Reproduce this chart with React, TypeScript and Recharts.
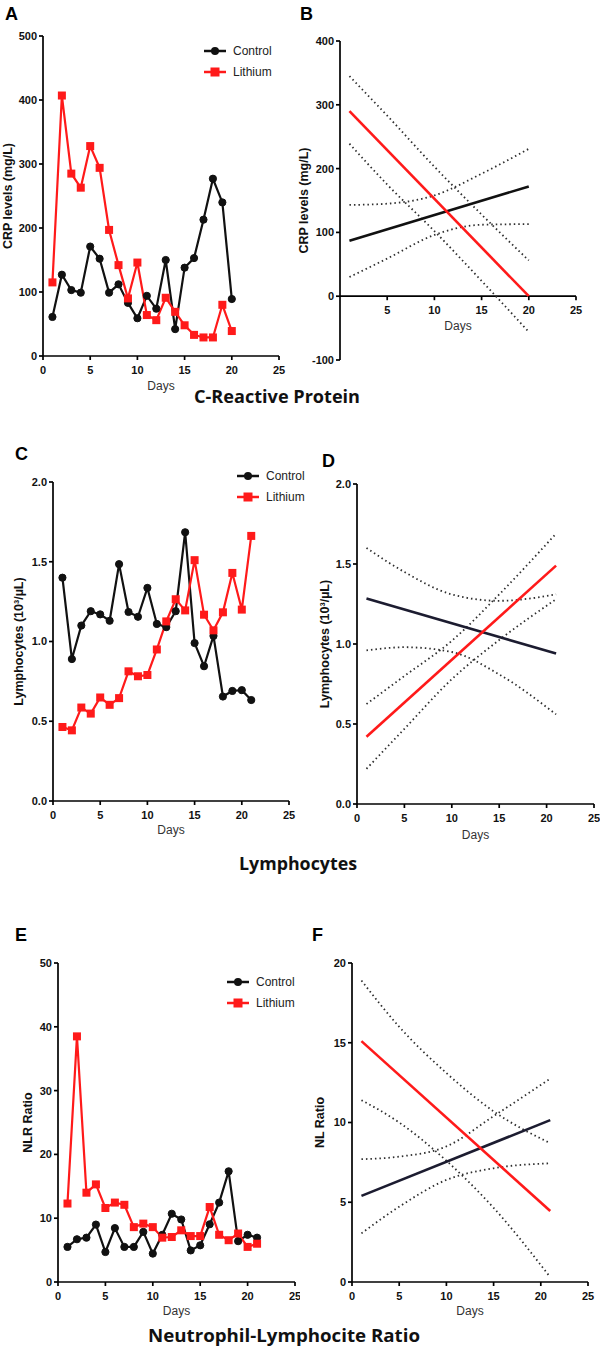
import { LineChart, Line, XAxis, YAxis, ReferenceLine, Legend } from "recharts";

const FONT = "'Liberation Sans', Arial, sans-serif";
const TITLE_FONT = "'Open Sans', 'Noto Sans', sans-serif";
const RED = "#ff1a1a";
const BLACK = "#111111";
const NAVY = "#1c1c30";
const CI = "#2e2e2e";

// A: CRP, daily values
const crpDays = [1, 2, 3, 4, 5, 6, 7, 8, 9, 10, 11, 12, 13, 14, 15, 16, 17, 18, 19, 20];
const crpControl = [61, 127, 103, 99, 171, 152, 99, 112, 83, 59, 94, 74, 150, 42, 138, 153, 213, 277, 240, 89];
const crpLithium = [115, 407, 285, 263, 328, 294, 197, 142, 90, 146, 64, 56, 91, 69, 48, 33, 29, 29, 80, 39];

// B: CRP, linear fit with 95% band
const crpFitDays = [1, 20];
const crpFitControl = [87, 172];
const crpFitLithium = [290, 0];
const crpBandDays = [1, 5, 10, 15, 20];
const crpCtrlUpper = [143, 145, 158, 192, 231];
const crpCtrlLower = [30, 59, 96, 112, 113];
const crpLithUpper = [345, 283, 203, 128, 56];
const crpLithLower = [239, 175, 102, 24, -56];

// C: lymphocytes, daily values
const lymDays = [1, 2, 3, 4, 5, 6, 7, 8, 9, 10, 11, 12, 13, 14, 15, 16, 17, 18, 19, 20, 21];
const lymControl = [1.4, 0.89, 1.1, 1.19, 1.17, 1.13, 1.485, 1.185, 1.155, 1.336, 1.11, 1.09, 1.19, 1.685, 0.99, 0.845, 1.035, 0.655, 0.69, 0.695, 0.633];
const lymLithium = [0.464, 0.443, 0.586, 0.548, 0.649, 0.603, 0.645, 0.813, 0.782, 0.79, 0.95, 1.126, 1.265, 1.195, 1.51, 1.168, 1.07, 1.183, 1.43, 1.2, 1.662];

// D: lymphocytes, linear fit with 95% band
const lymFitDays = [1, 21];
const lymFitControl = [1.285, 0.94];
const lymFitLithium = [0.42, 1.49];
const lymBandDays = [1, 5, 10, 15, 21];
const lymCtrlUpper = [1.6, 1.45, 1.31, 1.27, 1.31];
const lymCtrlLower = [0.96, 0.98, 0.95, 0.81, 0.56];
const lymLithUpper = [0.625, 0.8, 1.02, 1.31, 1.69];
const lymLithLower = [0.22, 0.47, 0.78, 1.025, 1.28];

// E: NLR, daily values
const nlrDays = lymDays;
const nlrControl = [5.5, 6.7, 6.95, 9.0, 4.7, 8.45, 5.5, 5.5, 7.85, 4.45, 7.4, 10.7, 9.8, 4.95, 5.75, 9.05, 12.45, 17.35, 6.4, 7.4, 6.95];
const nlrLithium = [12.3, 38.5, 14.0, 15.3, 11.6, 12.45, 12.1, 8.6, 9.15, 8.6, 6.95, 7.05, 8.1, 7.2, 7.2, 11.75, 7.4, 6.55, 7.6, 5.5, 6.0];

// F: NLR, linear fit with 95% band
const nlrFitDays = [1, 21];
const nlrFitControl = [5.4, 10.15];
const nlrFitLithium = [15.1, 4.45];
const nlrBandDays = [1, 5, 10, 15, 21];
const nlrCtrlUpper = [7.7, 7.86, 8.5, 10.4, 12.75];
const nlrCtrlLower = [3.05, 4.72, 6.4, 7.13, 7.44];
const nlrLithUpper = [18.9, 16.0, 13.1, 10.7, 8.7];
const nlrLithLower = [11.4, 10.0, 7.6, 4.65, 0.3];

const dayTicks = [0, 5, 10, 15, 20, 25];

const rows = (days: number[], vals: number[]) => days.map((day, i) => ({ day, v: vals[i] }));

const axisLine = { stroke: "#000", strokeWidth: 1.7 };
const tickStyle = { fontSize: 11, fontWeight: 700, fill: "#111", fontFamily: FONT };

function SquareDot(props: any) {
  const { cx, cy, index } = props;
  if (cx == null || cy == null) return <g key={index} />;
  return <rect key={index} x={cx - 4} y={cy - 4} width={8} height={8} fill={RED} />;
}

function LegendBox({ payload }: any) {
  return (
    <div style={{ fontFamily: FONT, fontSize: 12, color: "#222", whiteSpace: "nowrap" }}>
      {(payload || []).map((p: any) => (
        <div key={p.value} style={{ display: "flex", alignItems: "center", height: 21 }}>
          <svg width={22} height={12} style={{ display: "block" }}>
            <line x1={0} x2={22} y1={6} y2={6} stroke={p.color} strokeWidth={2.5} />
            {p.value === "Control" ? (
              <circle cx={11} cy={6} r={4} fill={p.color} />
            ) : (
              <rect x={6.5} y={1.5} width={9} height={9} fill={p.color} />
            )}
          </svg>
          <span style={{ marginLeft: 7 }}>{p.value}</span>
        </div>
      ))}
    </div>
  );
}

function yAxisProps(domain: number[], ticks: number[], label: string, dx: number, fmt?: (v: number) => string) {
  return {
    type: "number" as const,
    domain,
    ticks,
    interval: 0 as const,
    width: 40,
    tickSize: 4,
    tickMargin: 2,
    axisLine,
    tickLine: axisLine,
    tick: tickStyle,
    tickFormatter: fmt,
    label: {
      value: label,
      angle: -90,
      position: "center" as const,
      dx,
      style: { fontSize: 12.5, fontWeight: 700, fill: "#111", fontFamily: FONT },
    },
  };
}

function daysLabel(dy: number) {
  return { value: "Days", position: "center" as const, dy, style: { fontSize: 12, fill: "#333", fontFamily: FONT } };
}

interface RawProps {
  left: number;
  top: number;
  height: number;
  margin: { top: number; right: number; bottom: number; left: number };
  days: number[];
  control: number[];
  lithium: number[];
  yDomain: number[];
  yTicks: number[];
  yFmt?: (v: number) => string;
  yLabel: string;
  yLabelDx: number;
  daysDy: number;
  legendPos: { left: number; top: number };
}

function RawPanel(p: RawProps) {
  return (
    <div style={{ position: "absolute", left: p.left, top: p.top }}>
      <LineChart width={300} height={p.height} margin={p.margin}>
        <XAxis
          dataKey="day"
          type="number"
          domain={[0, 25]}
          ticks={dayTicks}
          interval={0}
          height={40}
          tickSize={4}
          tickMargin={6}
          axisLine={axisLine}
          tickLine={axisLine}
          tick={tickStyle}
          label={daysLabel(p.daysDy)}
        />
        <YAxis {...yAxisProps(p.yDomain, p.yTicks, p.yLabel, p.yLabelDx, p.yFmt)} />
        <Legend
          layout="vertical"
          align="center"
          verticalAlign="middle"
          content={(lp: any) => <LegendBox {...lp} />}
          wrapperStyle={{ left: p.legendPos.left, top: p.legendPos.top, width: "auto" }}
        />
        <Line
          name="Control"
          data={rows(p.days, p.control)}
          dataKey="v"
          stroke={BLACK}
          strokeWidth={2.2}
          dot={{ r: 3.6, fill: BLACK, stroke: BLACK, strokeWidth: 1 }}
          isAnimationActive={false}
        />
        <Line
          name="Lithium"
          data={rows(p.days, p.lithium)}
          dataKey="v"
          stroke={RED}
          strokeWidth={2.2}
          dot={<SquareDot />}
          isAnimationActive={false}
        />
      </LineChart>
    </div>
  );
}

interface FitProps {
  left: number;
  top: number;
  height: number;
  margin: { top: number; right: number; bottom: number; left: number };
  fitDays: number[];
  fitControl: number[];
  fitLithium: number[];
  bandDays: number[];
  bands: number[][];
  controlColor: string;
  yDomain: number[];
  yTicks: number[];
  yFmt?: (v: number) => string;
  yLabel: string;
  yLabelDx: number;
  daysDy: number;
  zeroAxis?: boolean;
}

function FitPanel(p: FitProps) {
  const plotH = p.height - p.margin.top - p.margin.bottom - 40;
  const shift = p.zeroAxis ? (plotH * (0 - p.yDomain[0])) / (p.yDomain[1] - p.yDomain[0]) : 0;
  const ZeroTick = (tp: any) => {
    const y0 = tp.y - shift;
    return (
      <g>
        <line x1={tp.x} x2={tp.x} y1={y0} y2={y0 + 4} stroke="#000" strokeWidth={1.7} />
        <text x={tp.x} y={y0 + 18} textAnchor="middle" {...tickStyle}>
          {tp.payload.value}
        </text>
      </g>
    );
  };
  return (
    <div style={{ position: "absolute", left: p.left, top: p.top }}>
      <LineChart width={310} height={p.height} margin={p.margin}>
        {p.zeroAxis ? (
          <XAxis
            dataKey="day"
            type="number"
            domain={[0, 25]}
            ticks={[5, 10, 15, 20, 25]}
            interval={0}
            height={40}
            tickSize={0}
            tickMargin={0}
            axisLine={false}
            tickLine={false}
            tick={<ZeroTick />}
            label={daysLabel(p.daysDy)}
          />
        ) : (
          <XAxis
            dataKey="day"
            type="number"
            domain={[0, 25]}
            ticks={dayTicks}
            interval={0}
            height={40}
            tickSize={4}
            tickMargin={6}
            axisLine={axisLine}
            tickLine={axisLine}
            tick={tickStyle}
            label={daysLabel(p.daysDy)}
          />
        )}
        <YAxis {...yAxisProps(p.yDomain, p.yTicks, p.yLabel, p.yLabelDx, p.yFmt)} />
        {p.zeroAxis && <ReferenceLine y={0} stroke="#000" strokeWidth={1.7} />}
        {p.bands.map((b, i) => (
          <Line
            key={i}
            data={rows(p.bandDays, b)}
            dataKey="v"
            type="monotone"
            stroke={CI}
            strokeWidth={1.8}
            strokeDasharray="1.5 3"
            dot={false}
            isAnimationActive={false}
          />
        ))}
        <Line data={rows(p.fitDays, p.fitControl)} dataKey="v" stroke={p.controlColor} strokeWidth={2.6} dot={false} isAnimationActive={false} />
        <Line data={rows(p.fitDays, p.fitLithium)} dataKey="v" stroke={RED} strokeWidth={2.6} dot={false} isAnimationActive={false} />
      </LineChart>
    </div>
  );
}

const oneDec = (v: number) => v.toFixed(1);

export default function App() {
  const letter = { fontFamily: FONT, fontWeight: 700, fontSize: 18, fill: "#000" };
  const title = { fontFamily: TITLE_FONT, fontWeight: 700, fontSize: 18, fill: "#111" };
  return (
    <div style={{ position: "absolute", left: 0, top: 0, width: 600, height: 1347, background: "#fff" }}>
      <RawPanel
        left={0}
        top={0}
        height={420}
        margin={{ top: 36, right: 21, bottom: 24, left: 3 }}
        days={crpDays}
        control={crpControl}
        lithium={crpLithium}
        yDomain={[0, 500]}
        yTicks={[0, 100, 200, 300, 400, 500]}
        yLabel="CRP levels (mg/L)"
        yLabelDx={-15}
        daysDy={10}
        legendPos={{ left: 204, top: 40 }}
      />
      <FitPanel
        left={290}
        top={0}
        height={420}
        margin={{ top: 41, right: 24, bottom: 20, left: 10 }}
        fitDays={crpFitDays}
        fitControl={crpFitControl}
        fitLithium={crpFitLithium}
        bandDays={crpBandDays}
        bands={[crpCtrlUpper, crpCtrlLower, crpLithUpper, crpLithLower]}
        controlColor={BLACK}
        yDomain={[-100, 400]}
        yTicks={[-100, 0, 100, 200, 300, 400]}
        yLabel="CRP levels (mg/L)"
        yLabelDx={-16}
        daysDy={-54}
        zeroAxis
      />
      <RawPanel
        left={0}
        top={440}
        height={420}
        margin={{ top: 42, right: 11, bottom: 19, left: 13 }}
        days={lymDays}
        control={lymControl}
        lithium={lymLithium}
        yDomain={[0, 2]}
        yTicks={[0, 0.5, 1, 1.5, 2]}
        yFmt={oneDec}
        yLabel="Lymphocytes (10³/µL)"
        yLabelDx={-14}
        daysDy={9}
        legendPos={{ left: 237, top: 25.5 }}
      />
      <FitPanel
        left={290}
        top={440}
        height={420}
        margin={{ top: 44, right: 6, bottom: 16, left: 27 }}
        fitDays={lymFitDays}
        fitControl={lymFitControl}
        fitLithium={lymFitLithium}
        bandDays={lymBandDays}
        bands={[lymCtrlUpper, lymCtrlLower, lymLithUpper, lymLithLower]}
        controlColor={NAVY}
        yDomain={[0, 2]}
        yTicks={[0, 0.5, 1, 1.5, 2]}
        yFmt={oneDec}
        yLabel="Lymphocytes (10³/µL)"
        yLabelDx={-12}
        daysDy={11}
      />
      <RawPanel
        left={0}
        top={880}
        height={467}
        margin={{ top: 83, right: 5, bottom: 25, left: 18 }}
        days={nlrDays}
        control={nlrControl}
        lithium={nlrLithium}
        yDomain={[0, 50]}
        yTicks={[0, 10, 20, 30, 40, 50]}
        yLabel="NLR Ratio"
        yLabelDx={-10}
        daysDy={9}
        legendPos={{ left: 227, top: 91.5 }}
      />
      <FitPanel
        left={290}
        top={880}
        height={467}
        margin={{ top: 83, right: 12, bottom: 25, left: 22 }}
        fitDays={nlrFitDays}
        fitControl={nlrFitControl}
        fitLithium={nlrFitLithium}
        bandDays={nlrBandDays}
        bands={[nlrCtrlUpper, nlrCtrlLower, nlrLithUpper, nlrLithLower]}
        controlColor={NAVY}
        yDomain={[0, 20]}
        yTicks={[0, 5, 10, 15, 20]}
        yLabel="NL Ratio"
        yLabelDx={-12}
        daysDy={9}
      />
      <svg width={600} height={1347} style={{ position: "absolute", left: 0, top: 0, pointerEvents: "none" }}>
        <text x={5} y={20} {...letter}>A</text>
        <text x={300} y={20} {...letter}>B</text>
        <text x={15} y={460} {...letter}>C</text>
        <text x={322} y={467} {...letter}>D</text>
        <text x={15} y={941} {...letter}>E</text>
        <text x={312} y={941} {...letter}>F</text>
        <text x={194} y={403} textLength={166} lengthAdjust="spacingAndGlyphs" {...title}>C-Reactive Protein</text>
        <text x={239} y={870} textLength={118} lengthAdjust="spacingAndGlyphs" {...title}>Lymphocytes</text>
        <text x={148} y={1342} textLength={272} lengthAdjust="spacingAndGlyphs" {...title}>Neutrophil-Lymphocite Ratio</text>
      </svg>
    </div>
  );
}
